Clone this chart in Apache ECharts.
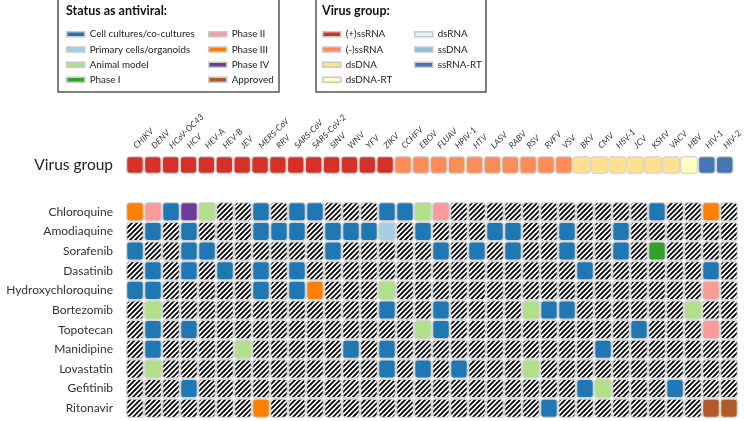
<!DOCTYPE html>
<html>
<head>
<meta charset="utf-8">
<script src="https://cdn.jsdelivr.net/npm/echarts@6.0.0/dist/echarts.min.js"></script>
<style>
  html, body { margin: 0; padding: 0; background: #fff; }
  #main { width: 745px; height: 421px; }
</style>
</head>
<body>
<div id="main"></div>
<script>
// columns: viruses
const viruses = ['CHIKV', 'DENV', 'HCoV-OC43', 'HCV', 'HEV-A', 'HEV-B', 'JEV', 'MERS-CoV', 'RRV', 'SARS-CoV',
  'SARS-CoV-2', 'SINV', 'WNV', 'YFV', 'ZIKV', 'CCHFV', 'EBOV', 'FLUAV', 'HPIV-1', 'HTV', 'LASV', 'RABV',
  'RSV', 'RVFV', 'VSV', 'BKV', 'CMV', 'HSV-1', 'JCV', 'KSHV', 'VACV', 'HBV', 'HIV-1', 'HIV-2']

// group of each virus (same order as viruses)
const virusGroupOf = ['(+)ssRNA', '(+)ssRNA', '(+)ssRNA', '(+)ssRNA', '(+)ssRNA', '(+)ssRNA', '(+)ssRNA', '(+)ssRNA',
  '(+)ssRNA', '(+)ssRNA', '(+)ssRNA', '(+)ssRNA', '(+)ssRNA', '(+)ssRNA', '(+)ssRNA',
  '(-)ssRNA', '(-)ssRNA', '(-)ssRNA', '(-)ssRNA', '(-)ssRNA', '(-)ssRNA', '(-)ssRNA', '(-)ssRNA', '(-)ssRNA', '(-)ssRNA',
  'dsDNA', 'dsDNA', 'dsDNA', 'dsDNA', 'dsDNA', 'dsDNA', 'dsDNA-RT', 'ssRNA-RT', 'ssRNA-RT']

// rows: drugs
const drugs = ['Chloroquine', 'Amodiaquine', 'Sorafenib', 'Dasatinib', 'Hydroxychloroquine', 'Bortezomib',
  'Topotecan', 'Manidipine', 'Lovastatin', 'Gefitinib', 'Ritonavir']

const statuses = ['Cell cultures/co-cultures', 'Primary cells/organoids', 'Animal model', 'Phase I',
  'Phase II', 'Phase III', 'Phase IV', 'Approved']
const groups = ['(+)ssRNA', '(-)ssRNA', 'dsDNA', 'dsDNA-RT', 'dsRNA', 'ssDNA', 'ssRNA-RT']

// [drug, virus, status]
const findings = [
  ['Chloroquine', 'CHIKV', 'Phase III'], ['Chloroquine', 'DENV', 'Phase II'], ['Chloroquine', 'HCoV-OC43', 'Cell cultures/co-cultures'],
  ['Chloroquine', 'HCV', 'Phase IV'], ['Chloroquine', 'HEV-A', 'Animal model'], ['Chloroquine', 'MERS-CoV', 'Cell cultures/co-cultures'],
  ['Chloroquine', 'SARS-CoV', 'Cell cultures/co-cultures'], ['Chloroquine', 'SARS-CoV-2', 'Cell cultures/co-cultures'],
  ['Chloroquine', 'ZIKV', 'Cell cultures/co-cultures'], ['Chloroquine', 'CCHFV', 'Cell cultures/co-cultures'],
  ['Chloroquine', 'EBOV', 'Animal model'], ['Chloroquine', 'FLUAV', 'Phase II'], ['Chloroquine', 'KSHV', 'Cell cultures/co-cultures'],
  ['Chloroquine', 'HIV-1', 'Phase III'],

  ['Amodiaquine', 'DENV', 'Cell cultures/co-cultures'], ['Amodiaquine', 'HCV', 'Cell cultures/co-cultures'],
  ['Amodiaquine', 'MERS-CoV', 'Cell cultures/co-cultures'], ['Amodiaquine', 'RRV', 'Cell cultures/co-cultures'],
  ['Amodiaquine', 'SARS-CoV', 'Cell cultures/co-cultures'], ['Amodiaquine', 'SINV', 'Cell cultures/co-cultures'],
  ['Amodiaquine', 'WNV', 'Cell cultures/co-cultures'], ['Amodiaquine', 'YFV', 'Cell cultures/co-cultures'],
  ['Amodiaquine', 'ZIKV', 'Primary cells/organoids'], ['Amodiaquine', 'EBOV', 'Cell cultures/co-cultures'],
  ['Amodiaquine', 'LASV', 'Cell cultures/co-cultures'], ['Amodiaquine', 'RABV', 'Cell cultures/co-cultures'],
  ['Amodiaquine', 'VSV', 'Cell cultures/co-cultures'], ['Amodiaquine', 'HSV-1', 'Cell cultures/co-cultures'],

  ['Sorafenib', 'CHIKV', 'Cell cultures/co-cultures'], ['Sorafenib', 'HCV', 'Cell cultures/co-cultures'],
  ['Sorafenib', 'HEV-A', 'Cell cultures/co-cultures'], ['Sorafenib', 'SINV', 'Cell cultures/co-cultures'],
  ['Sorafenib', 'FLUAV', 'Cell cultures/co-cultures'], ['Sorafenib', 'HTV', 'Cell cultures/co-cultures'],
  ['Sorafenib', 'RABV', 'Cell cultures/co-cultures'], ['Sorafenib', 'VSV', 'Cell cultures/co-cultures'],
  ['Sorafenib', 'HSV-1', 'Cell cultures/co-cultures'], ['Sorafenib', 'KSHV', 'Phase I'],

  ['Dasatinib', 'DENV', 'Cell cultures/co-cultures'], ['Dasatinib', 'HCV', 'Cell cultures/co-cultures'],
  ['Dasatinib', 'HEV-B', 'Cell cultures/co-cultures'], ['Dasatinib', 'MERS-CoV', 'Cell cultures/co-cultures'],
  ['Dasatinib', 'SARS-CoV', 'Cell cultures/co-cultures'], ['Dasatinib', 'BKV', 'Cell cultures/co-cultures'],
  ['Dasatinib', 'HIV-1', 'Cell cultures/co-cultures'],

  ['Hydroxychloroquine', 'CHIKV', 'Cell cultures/co-cultures'], ['Hydroxychloroquine', 'DENV', 'Cell cultures/co-cultures'],
  ['Hydroxychloroquine', 'MERS-CoV', 'Cell cultures/co-cultures'], ['Hydroxychloroquine', 'SARS-CoV', 'Cell cultures/co-cultures'],
  ['Hydroxychloroquine', 'SARS-CoV-2', 'Phase III'], ['Hydroxychloroquine', 'ZIKV', 'Animal model'],
  ['Hydroxychloroquine', 'HIV-1', 'Phase II'],

  ['Bortezomib', 'DENV', 'Animal model'], ['Bortezomib', 'ZIKV', 'Cell cultures/co-cultures'],
  ['Bortezomib', 'FLUAV', 'Cell cultures/co-cultures'], ['Bortezomib', 'RSV', 'Animal model'],
  ['Bortezomib', 'RVFV', 'Cell cultures/co-cultures'], ['Bortezomib', 'VSV', 'Cell cultures/co-cultures'],
  ['Bortezomib', 'HBV', 'Animal model'],

  ['Topotecan', 'DENV', 'Cell cultures/co-cultures'], ['Topotecan', 'HCV', 'Cell cultures/co-cultures'],
  ['Topotecan', 'EBOV', 'Animal model'], ['Topotecan', 'FLUAV', 'Cell cultures/co-cultures'],
  ['Topotecan', 'JCV', 'Cell cultures/co-cultures'], ['Topotecan', 'HIV-1', 'Phase II'],

  ['Manidipine', 'DENV', 'Cell cultures/co-cultures'], ['Manidipine', 'JEV', 'Animal model'],
  ['Manidipine', 'WNV', 'Cell cultures/co-cultures'], ['Manidipine', 'ZIKV', 'Cell cultures/co-cultures'],
  ['Manidipine', 'CMV', 'Cell cultures/co-cultures'],

  ['Lovastatin', 'DENV', 'Animal model'], ['Lovastatin', 'ZIKV', 'Cell cultures/co-cultures'],
  ['Lovastatin', 'EBOV', 'Cell cultures/co-cultures'], ['Lovastatin', 'HPIV-1', 'Cell cultures/co-cultures'],
  ['Lovastatin', 'RSV', 'Animal model'],

  ['Gefitinib', 'HCV', 'Cell cultures/co-cultures'], ['Gefitinib', 'BKV', 'Cell cultures/co-cultures'],
  ['Gefitinib', 'CMV', 'Animal model'], ['Gefitinib', 'VACV', 'Cell cultures/co-cultures'],

  ['Ritonavir', 'MERS-CoV', 'Phase III'], ['Ritonavir', 'RVFV', 'Cell cultures/co-cultures'],
  ['Ritonavir', 'HIV-1', 'Approved'], ['Ritonavir', 'HIV-2', 'Approved']
]

// colours
const statusColors = ['#1f78b4', '#a6cee3', '#b2df8a', '#33a02c', '#fb9a99', '#ff7f00', '#6a3d9a', '#b15928']
const groupColors = ['#d73027', '#fc8d59', '#fee090', '#ffffbf', '#e0f3f8', '#91bfdb', '#4575b4']

const FONT = 'Lato'
const CELL_LINE = '#d6d6d6'

// hatch pattern for "no evidence" cells
const hatch = document.createElement('canvas')
hatch.width = 5
hatch.height = 5
const hctx = hatch.getContext('2d')
hctx.fillStyle = '#fff'
hctx.fillRect(0, 0, 5, 5)
hctx.strokeStyle = '#000'
hctx.lineWidth = 1.8
hctx.beginPath()
hctx.moveTo(0, 5); hctx.lineTo(5, 0)
hctx.moveTo(-1, 1); hctx.lineTo(1, -1)
hctx.moveTo(4, 6); hctx.lineTo(6, 4)
hctx.stroke()
const hatchFill = { image: hatch, repeat: 'repeat' }

// rounded cell
const cellShape = (api) => {
    const c = api.coord([api.value(0), api.value(1)])
    const s = api.size([1, 1])
    const w = s[0] - 1.3
    const h = s[1] - 1.3
    return { x: c[0] - w / 2, y: c[1] - h / 2, width: w, height: h, r: 3 }
}
const renderCell = (params, api) => ({
    type: 'rect',
    shape: cellShape(api),
    style: { fill: api.visual('color'), stroke: CELL_LINE, lineWidth: 1.3 }
})
const renderHatch = (params, api) => ({
    type: 'rect',
    shape: cellShape(api),
    style: { fill: hatchFill, stroke: CELL_LINE, lineWidth: 1.3 }
})

// cells without findings
const found = new Set(findings.map(f => f[0] + '|' + f[1]))
const empty = []
drugs.forEach(d => viruses.forEach(v => {
    if (!found.has(d + '|' + v)) empty.push([v, d])
}))

const series = []
// virus group row
groups.forEach((g, i) => {
    series.push({
        type: 'custom',
        name: g,
        xAxisIndex: 0,
        yAxisIndex: 0,
        itemStyle: { color: groupColors[i] },
        renderItem: renderCell,
        data: viruses.filter((v, k) => virusGroupOf[k] === g).map(v => [v, 'Virus group'])
    })
})
// hatched background cells
series.push({
    type: 'custom',
    name: 'none',
    xAxisIndex: 1,
    yAxisIndex: 1,
    renderItem: renderHatch,
    data: empty
})
// status cells
statuses.forEach((s, i) => {
    series.push({
        type: 'custom',
        name: s,
        xAxisIndex: 1,
        yAxisIndex: 1,
        itemStyle: { color: statusColors[i] },
        renderItem: renderCell,
        data: findings.filter(f => f[2] === s).map(f => [f[1], f[0]])
    })
})

const legendBase = {
    orient: 'vertical',
    top: 28,
    padding: 0,
    itemGap: 2.7,
    itemWidth: 18,
    itemHeight: 5,
    icon: 'rect',
    selectedMode: false,
    itemStyle: { borderColor: '#c8c8c8', borderWidth: 1.5 },
    textStyle: { fontFamily: FONT, fontSize: 9.8, color: '#222', lineHeight: 12.5 }
}

const chart = echarts.init(document.getElementById('main'))
chart.setOption({
    animation: false,
    backgroundColor: '#fff',
    textStyle: { fontFamily: FONT },
    legend: [
        { ...legendBase, left: 66, data: statuses.slice(0, 4) },
        { ...legendBase, left: 208, data: statuses.slice(4) },
        { ...legendBase, left: 322, data: groups.slice(0, 4) },
        { ...legendBase, left: 414, data: groups.slice(4) }
    ],
    graphic: [
        { type: 'rect', shape: { x: 58, y: -1, width: 221, height: 93 }, style: { fill: 'none', stroke: '#555', lineWidth: 1.5 } },
        { type: 'rect', shape: { x: 316, y: -1, width: 170, height: 93 }, style: { fill: 'none', stroke: '#555', lineWidth: 1.5 } },
        { type: 'text', x: 66, y: 4, style: { text: 'Status as antiviral:', fontFamily: FONT, fontSize: 12.5, fontWeight: 'bold', fill: '#111' } },
        { type: 'text', x: 322, y: 4, style: { text: 'Virus group:', fontFamily: FONT, fontSize: 12.5, fontWeight: 'bold', fill: '#111' } }
    ],
    grid: [
        { left: 126, width: 612, top: 156, height: 18 },
        { left: 126, width: 612, top: 202, height: 216 }
    ],
    xAxis: [
        {
            type: 'category', gridIndex: 0, position: 'top', data: viruses,
            axisLine: { show: false }, axisTick: { show: false },
            axisLabel: { interval: 0, rotate: -45, margin: 9, fontSize: 8.5, fontStyle: 'italic', color: '#333' }
        },
        {
            type: 'category', gridIndex: 1, data: viruses,
            axisLine: { show: false }, axisTick: { show: false }, axisLabel: { show: false }
        }
    ],
    yAxis: [
        {
            type: 'category', gridIndex: 0, data: ['Virus group'],
            axisLine: { show: false }, axisTick: { show: false },
            axisLabel: { margin: 13, fontSize: 15.5, color: '#222' }
        },
        {
            type: 'category', gridIndex: 1, data: drugs, inverse: true,
            axisLine: { show: false }, axisTick: { show: false },
            axisLabel: { interval: 0, margin: 13, fontSize: 12, color: '#333' }
        }
    ],
    series: series
})
</script>
</body>
</html>
